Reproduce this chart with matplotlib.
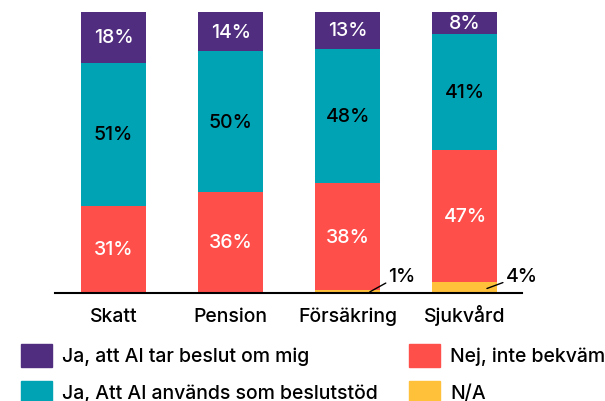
import matplotlib.pyplot as plt
import numpy as np
from matplotlib.patches import Rectangle

plt.rcParams['font.family'] = ['Inter', 'DejaVu Sans']
plt.rcParams['font.weight'] = 'medium'

categories = ["Skatt", "Pension", "Försäkring", "Sjukvård"]
na_vals = [0, 0, 1, 4]
nej_vals = [31, 36, 38, 47]
stod_vals = [51, 50, 48, 41]
beslut_vals = [18, 14, 13, 8]

legend_labels = ["Ja, att AI tar beslut om mig", "Ja, Att AI används som beslutstöd",
                 "Nej, inte bekväm", "N/A"]

c_purple = "#512d7f"
c_teal = "#00a3b4"
c_red = "#ff4f4b"
c_yellow = "#ffc03a"

fig = plt.figure(figsize=(6.05, 4.02), dpi=100)
ax = fig.add_axes([55 / 605, 1 - 294 / 402, (522 - 55) / 605, (294 - 13) / 402])

x = np.arange(len(categories))
w = 65 / 117
na = np.array(na_vals)
nej = np.array(nej_vals)
stod = np.array(stod_vals)
beslut = np.array(beslut_vals)

ax.bar(x, na, w, color=c_yellow)
ax.bar(x, nej, w, bottom=na, color=c_red)
ax.bar(x, stod, w, bottom=na + nej, color=c_teal)
ax.bar(x, beslut, w, bottom=na + nej + stod, color=c_purple)

fs = 14
for i in range(len(categories)):
    ax.text(x[i], na[i] + nej[i] / 2, f"{nej[i]}%", ha="center", va="center",
            color="white", fontsize=fs)
    ax.text(x[i], na[i] + nej[i] + stod[i] / 2, f"{stod[i]}%", ha="center", va="center",
            color="black", fontsize=fs)
    ax.text(x[i], na[i] + nej[i] + stod[i] + beslut[i] / 2, f"{beslut[i]}%", ha="center",
            va="center", color="white", fontsize=fs)
    if na[i] > 0:
        x0 = x[i] + w / 2 - 0.09
        ax.annotate(f"{na[i]}%", xy=(x0, na[i] * 0.4), xytext=(x0 + 0.16, 6),
                    ha="left", va="center", fontsize=fs, color="black",
                    arrowprops=dict(arrowstyle="-", color="black", lw=1,
                                    shrinkA=0, shrinkB=0, relpos=(0, 0.2)))

ax.set_xlim(-0.5, 3.487)
ax.set_ylim(0, 100)
ax.set_xticks(x)
ax.set_xticklabels(categories, fontsize=fs, va="baseline")
ax.tick_params(axis="x", length=0, pad=20)
ax.set_yticks([])
for s in ["top", "right", "left"]:
    ax.spines[s].set_visible(False)
ax.spines["bottom"].set_linewidth(1.5)

# legend
cols = [c_purple, c_teal, c_red, c_yellow]
pos = [(21, 345), (21, 382), (409, 345), (409, 382)]
for lab, col, (px, py) in zip(legend_labels, cols, pos):
    fig.patches.append(Rectangle((px / 605, 1 - (py + 23) / 402), 31 / 605, 23 / 402,
                                 transform=fig.transFigure, color=col))
    fig.text((px + 41) / 605, 1 - (py + 12) / 402, lab, ha="left", va="center",
             fontsize=fs)

fig.savefig("out.png", dpi=100)
